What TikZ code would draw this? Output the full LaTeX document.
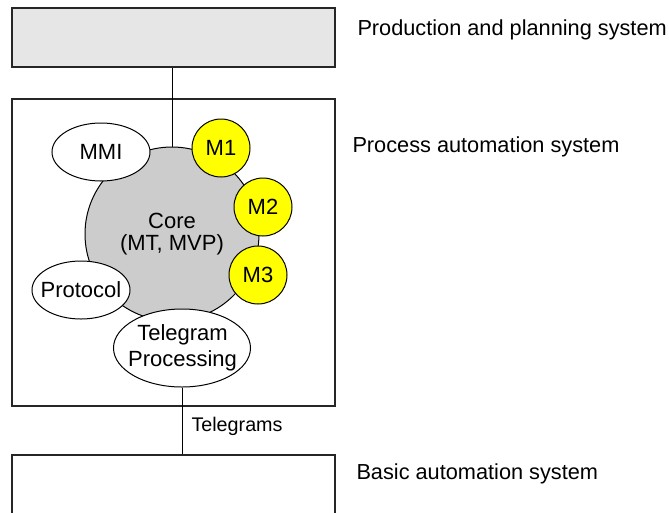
\documentclass[tikz,border=0pt]{standalone}
\usepackage{fontspec}
\setmainfont{Liberation Sans}
\usetikzlibrary{shapes.geometric}
\definecolor{corefill}{HTML}{CCCCCC}
\definecolor{topfill}{HTML}{E6E6E6}
\definecolor{modfill}{HTML}{FFFF00}
\begin{document}
\begin{tikzpicture}[x=0.75pt,y=-0.75pt,
  line width=0.75pt,
  lbl/.style={font=\fontsize{16.5}{19}\selectfont},
  sysbox/.style={draw=black!85, line width=0.8pt, inner sep=0pt},
  blob/.style={ellipse, draw=black, fill=white, inner sep=0pt},
  blobtext/.style={inner sep=0pt, lbl, align=center},
  module/.style={circle, draw=black, fill=modfill, inner sep=0pt,
    minimum size=58*0.75pt, lbl},
  side/.style={anchor=west, inner sep=0pt, font=\fontsize{16.3}{19}\selectfont}]
\useasboundingbox (0,0) rectangle (669,512);

% the three system layers
\node (plan) [sysbox, fill=topfill, minimum width=323*0.75pt,
  minimum height=59*0.75pt] at (173.5,37.5) {};
\node (proc) [sysbox, minimum width=323*0.75pt,
  minimum height=307*0.75pt] at (173.5,252.5) {};
\node (basic) [sysbox, minimum width=323*0.75pt,
  minimum height=105*0.75pt] at (173.5,507.5) {};

% core of the process automation system
\node (core) [circle, draw=black, fill=corefill, minimum size=174*0.75pt,
  inner sep=0pt, align=center, font=\fontsize{16.5}{17}\selectfont]
  at (172,234) {Core\\(MT, MVP)};
\draw (core.north) -- (core.north |- plan.south);

% surrounding components
\node (mmi) [blob, minimum width=98*0.75pt, minimum height=58*0.75pt]
  at (101,152) {};
\node (mmitext) [blobtext] at (mmi.center) {MMI};
\node (m1) [module] at (221,148) {M1};
\node (m2) [module] at (263,207) {M2};
\node (m3) [module] at (258,275) {M3};
\node (protocol) [blob, minimum width=98*0.75pt, minimum height=58*0.75pt]
  at (81,290) {};
\node (protocoltext) [blobtext] at (protocol.center) {Protocol};
\node (tp) [blob, minimum width=137*0.75pt, minimum height=78*0.75pt]
  at (182,348) {};
\node (tptext) [blobtext, font=\fontsize{16.5}{19.5}\selectfont]
  at ([xshift=0.5*0.75pt]tp.center) {Telegram\\Processing};

% telegram link to the basic automation layer
\draw (tp.south) -- (tp.south |- basic.north)
  node (tglabel) [pos=0.58, anchor=west, inner sep=0pt, xshift=9*0.75pt,
  font=\fontsize{14.8}{17}\selectfont] {Telegrams};

% layer names
\node (planname) [side] at (357,30) {Production and planning system};
\node (procname) [side] at (352,147) {Process automation system};
\node (basicname) [side] at (356,474) {Basic automation system};
\end{tikzpicture}
\end{document}
